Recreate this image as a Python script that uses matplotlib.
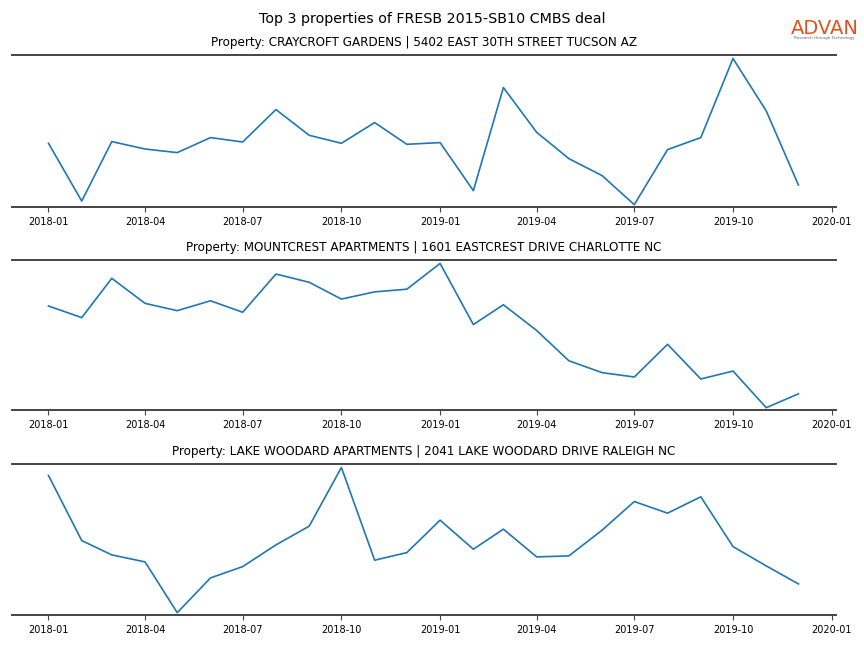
import matplotlib
matplotlib.use("Agg")
import matplotlib.pyplot as plt
import matplotlib.dates as mdates
import pandas as pd
import numpy as np

months = pd.date_range("2018-01-01", "2019-12-01", freq="MS")

titles = [
    "Property: CRAYCROFT GARDENS | 5402 EAST 30TH STREET TUCSON AZ",
    "Property: MOUNTCREST APARTMENTS | 1601 EASTCREST DRIVE CHARLOTTE NC",
    "Property: LAKE WOODARD APARTMENTS | 2041 LAKE WOODARD DRIVE RALEIGH NC",
]

craycroft = [637, 60, 654, 580, 544, 694, 650, 974, 717, 637, 844, 627,
             644, 164, 1194, 747, 484, 314, 24, 574, 694, 1484, 960, 220]
mountcrest = [1027, 910, 1307, 1054, 980, 1080, 964, 1350, 1267, 1097, 1170, 1197,
              1457, 840, 1040, 780, 474, 354, 310, 640, 290, 370, 0, 140]
lakewoodard = [1393, 743, 600, 530, 23, 370, 483, 700, 887, 1473, 547, 623,
               947, 657, 857, 580, 590, 847, 1133, 1017, 1180, 683, 490, 310]

series = [craycroft, mountcrest, lakewoodard]

fig = plt.figure(figsize=(8.64, 6.48), dpi=100)
fig.text(0.5, 1 - 19.5 / 648, "Top 3 properties of FRESB 2015-SB10 CMBS deal",
         ha="center", va="center", fontsize=10.3)

# logo
fig.text(0.9545, 1 - 28 / 648, "ADVAN", ha="center", va="center",
         fontsize=14, color="#E2531F", fontweight="normal")
fig.text(0.9545, 1 - 38.5 / 648, "Research through Technology", ha="center",
         va="center", fontsize=3, color="#666666")

axes_px = [(55, 207), (260, 410), (464, 615)]
left = 12 / 864
width = (836 - 12) / 864
xmin = pd.Timestamp("2017-11-28")
xmax = pd.Timestamp("2020-01-05")

for (top, bot), title, vals in zip(axes_px, titles, series):
    ax = fig.add_axes([left, 1 - bot / 648, width, (bot - top) / 648])
    ax.plot(months, vals, color="#1f77b4", linewidth=1.2)
    ax.set_xlim(xmin, xmax)
    lo, hi = min(vals), max(vals)
    span = hi - lo
    ax.set_ylim(lo - 0.016 * span, hi + 0.024 * span)
    ax.set_title(title, fontsize=8.65, pad=6.5)
    for s in ["left", "right"]:
        ax.spines[s].set_visible(False)
    for s in ["top", "bottom"]:
        ax.spines[s].set_color("#444444")
        ax.spines[s].set_linewidth(1.4)
    ax.set_yticks([])
    ax.xaxis.set_major_locator(mdates.MonthLocator(bymonth=[1, 4, 7, 10]))
    ax.xaxis.set_major_formatter(mdates.DateFormatter("%Y-%m"))
    ax.tick_params(axis="x", labelsize=7, length=3.5, width=0.8,
                   color="#444444", pad=4)

fig.savefig("out.png", dpi=100)
